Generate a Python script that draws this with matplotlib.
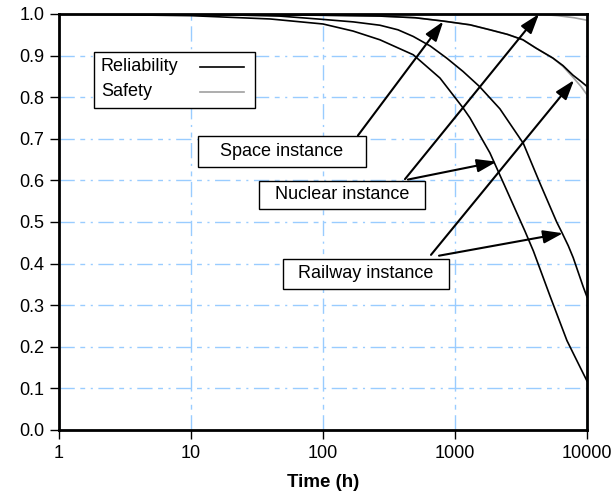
import numpy as np
import matplotlib.pyplot as plt
from matplotlib.lines import Line2D
from matplotlib.patches import Rectangle

plt.rcParams['font.family'] = ['Liberation Sans', 'DejaVu Sans']

# time points (h) and values
space_t = [1, 10, 100, 270, 500, 815, 1300, 1841, 2500, 3273, 4110, 5520, 6580, 7830, 9000, 10000]
space_rel = [1.0, 0.999, 0.997, 0.995, 0.991, 0.983, 0.974, 0.962, 0.951, 0.938, 0.918, 0.894, 0.876, 0.853, 0.838, 0.826]
space_saf = [1.0, 0.999, 0.997, 0.995, 0.991, 0.983, 0.974, 0.962, 0.951, 0.938, 0.918, 0.894, 0.874, 0.848, 0.826, 0.806]

nuclear_t = [1, 10, 40, 100, 169, 270, 483, 770, 1153, 1300, 1840, 2460, 3390, 3930, 5250, 7050, 9330, 10000]
nuclear_rel = [1.0, 0.996, 0.988, 0.976, 0.959, 0.938, 0.902, 0.846, 0.774, 0.750, 0.666, 0.577, 0.478, 0.430, 0.322, 0.215, 0.137, 0.118]
nuclear_saf_t = [1, 100, 1000, 3000, 4500, 6000, 8000, 10000]
nuclear_saf = [1.0, 1.0, 1.0, 1.0, 0.999, 0.996, 0.991, 0.985]

railway_t = [1, 10, 47, 100, 170, 270, 370, 483, 650, 865, 1150, 1530, 2190, 3295, 4406, 5894, 6430, 7215, 7870, 9370, 10000]
railway_rel = [1.0, 1.0, 0.995, 0.987, 0.981, 0.973, 0.962, 0.946, 0.923, 0.894, 0.862, 0.826, 0.772, 0.689, 0.593, 0.500, 0.476, 0.443, 0.414, 0.344, 0.320]

xticks = [1, 10, 100, 1000, 10000]
xlabels = ['1', '10', '100', '1000', '10000']
yticks = [0.0, 0.1, 0.2, 0.3, 0.4, 0.5, 0.6, 0.7, 0.8, 0.9, 1.0]

GRAY = '#a0a0a0'
FS = 13

fig = plt.figure(figsize=(6.12, 5.0), dpi=100)
ax = fig.add_axes([0.0964, 0.14, 0.8627, 0.832])

# grey (safety) curves underneath, black (reliability) on top
ax.plot(space_t, space_saf, color=GRAY, lw=1.2)
ax.plot(nuclear_saf_t, nuclear_saf, color=GRAY, lw=1.2)
ax.plot(space_t, space_rel, color='black', lw=1.2)
ax.plot(nuclear_t, nuclear_rel, color='black', lw=1.2)
ax.plot(railway_t, railway_rel, color='black', lw=1.2)

ax.set_xscale('log')
ax.set_xlim(1, 10000)
ax.set_ylim(0, 1)
ax.set_xticks(xticks)
ax.set_xticklabels(xlabels)
ax.xaxis.set_minor_locator(plt.NullLocator())
ax.set_yticks(yticks)
ax.set_yticklabels(['%.1f' % v for v in yticks])
ax.tick_params(direction='out', length=6.5, width=1, labelsize=FS, pad=4)
ax.set_xlabel('Time (h)', fontsize=13.5, fontweight='bold', labelpad=9)

ax.grid(True, color='#99ccff', lw=1, linestyle=(0, (11, 4, 3.5, 4, 1.5, 4)))
ax.set_axisbelow(True)
for sp in ax.spines.values():
    sp.set_linewidth(2)
    sp.set_zorder(5)

# legend box drawn by hand: label text left, line sample right
ax.add_patch(Rectangle((0.066, 0.774), 0.305, 0.135, transform=ax.transAxes,
                       fc='white', ec='black', lw=1, zorder=6))
for label, col, yy in [('Reliability', 'black', 0.873), ('Safety', GRAY, 0.8125)]:
    ax.text(0.0795, yy, label, transform=ax.transAxes, ha='left', va='center', fontsize=FS, zorder=7)
    ax.add_line(Line2D([0.267, 0.350], [yy, yy], transform=ax.transAxes, color=col, lw=1.2, zorder=7))

# instance labels: (text, box x0, box y0, width, height) in axes fraction
boxes = [('Space instance', 0.263, 0.632, 0.318, 0.074),
         ('Nuclear instance', 0.379, 0.531, 0.314, 0.068),
         ('Railway instance', 0.424, 0.339, 0.315, 0.073)]
for txt, x0, y0, w, h in boxes:
    ax.add_patch(Rectangle((x0, y0), w, h, transform=ax.transAxes, fc='white', ec='black', lw=1, zorder=6))
    ax.text(x0 + w / 2, y0 + h / 2, txt, transform=ax.transAxes, ha='center', va='center',
            fontsize=FS, zorder=7)

# arrows: (start t, start R, tip t, tip R)
arrows = [(184, 0.708, 815, 0.982),
          (418, 0.603, 4330, 1.0),
          (440, 0.602, 2070, 0.645),
          (658, 0.421, 7980, 0.841),
          (757, 0.419, 6580, 0.473)]
for t0, r0, t1, r1 in arrows:
    ax.annotate('', xy=(t1, r1), xytext=(t0, r0),
                arrowprops=dict(arrowstyle='-|>,head_length=0.6,head_width=0.2', mutation_scale=20,
                                color='black', lw=1.5, shrinkA=0, shrinkB=0),
                zorder=4, annotation_clip=False)

fig.savefig('out.png', dpi=100)
